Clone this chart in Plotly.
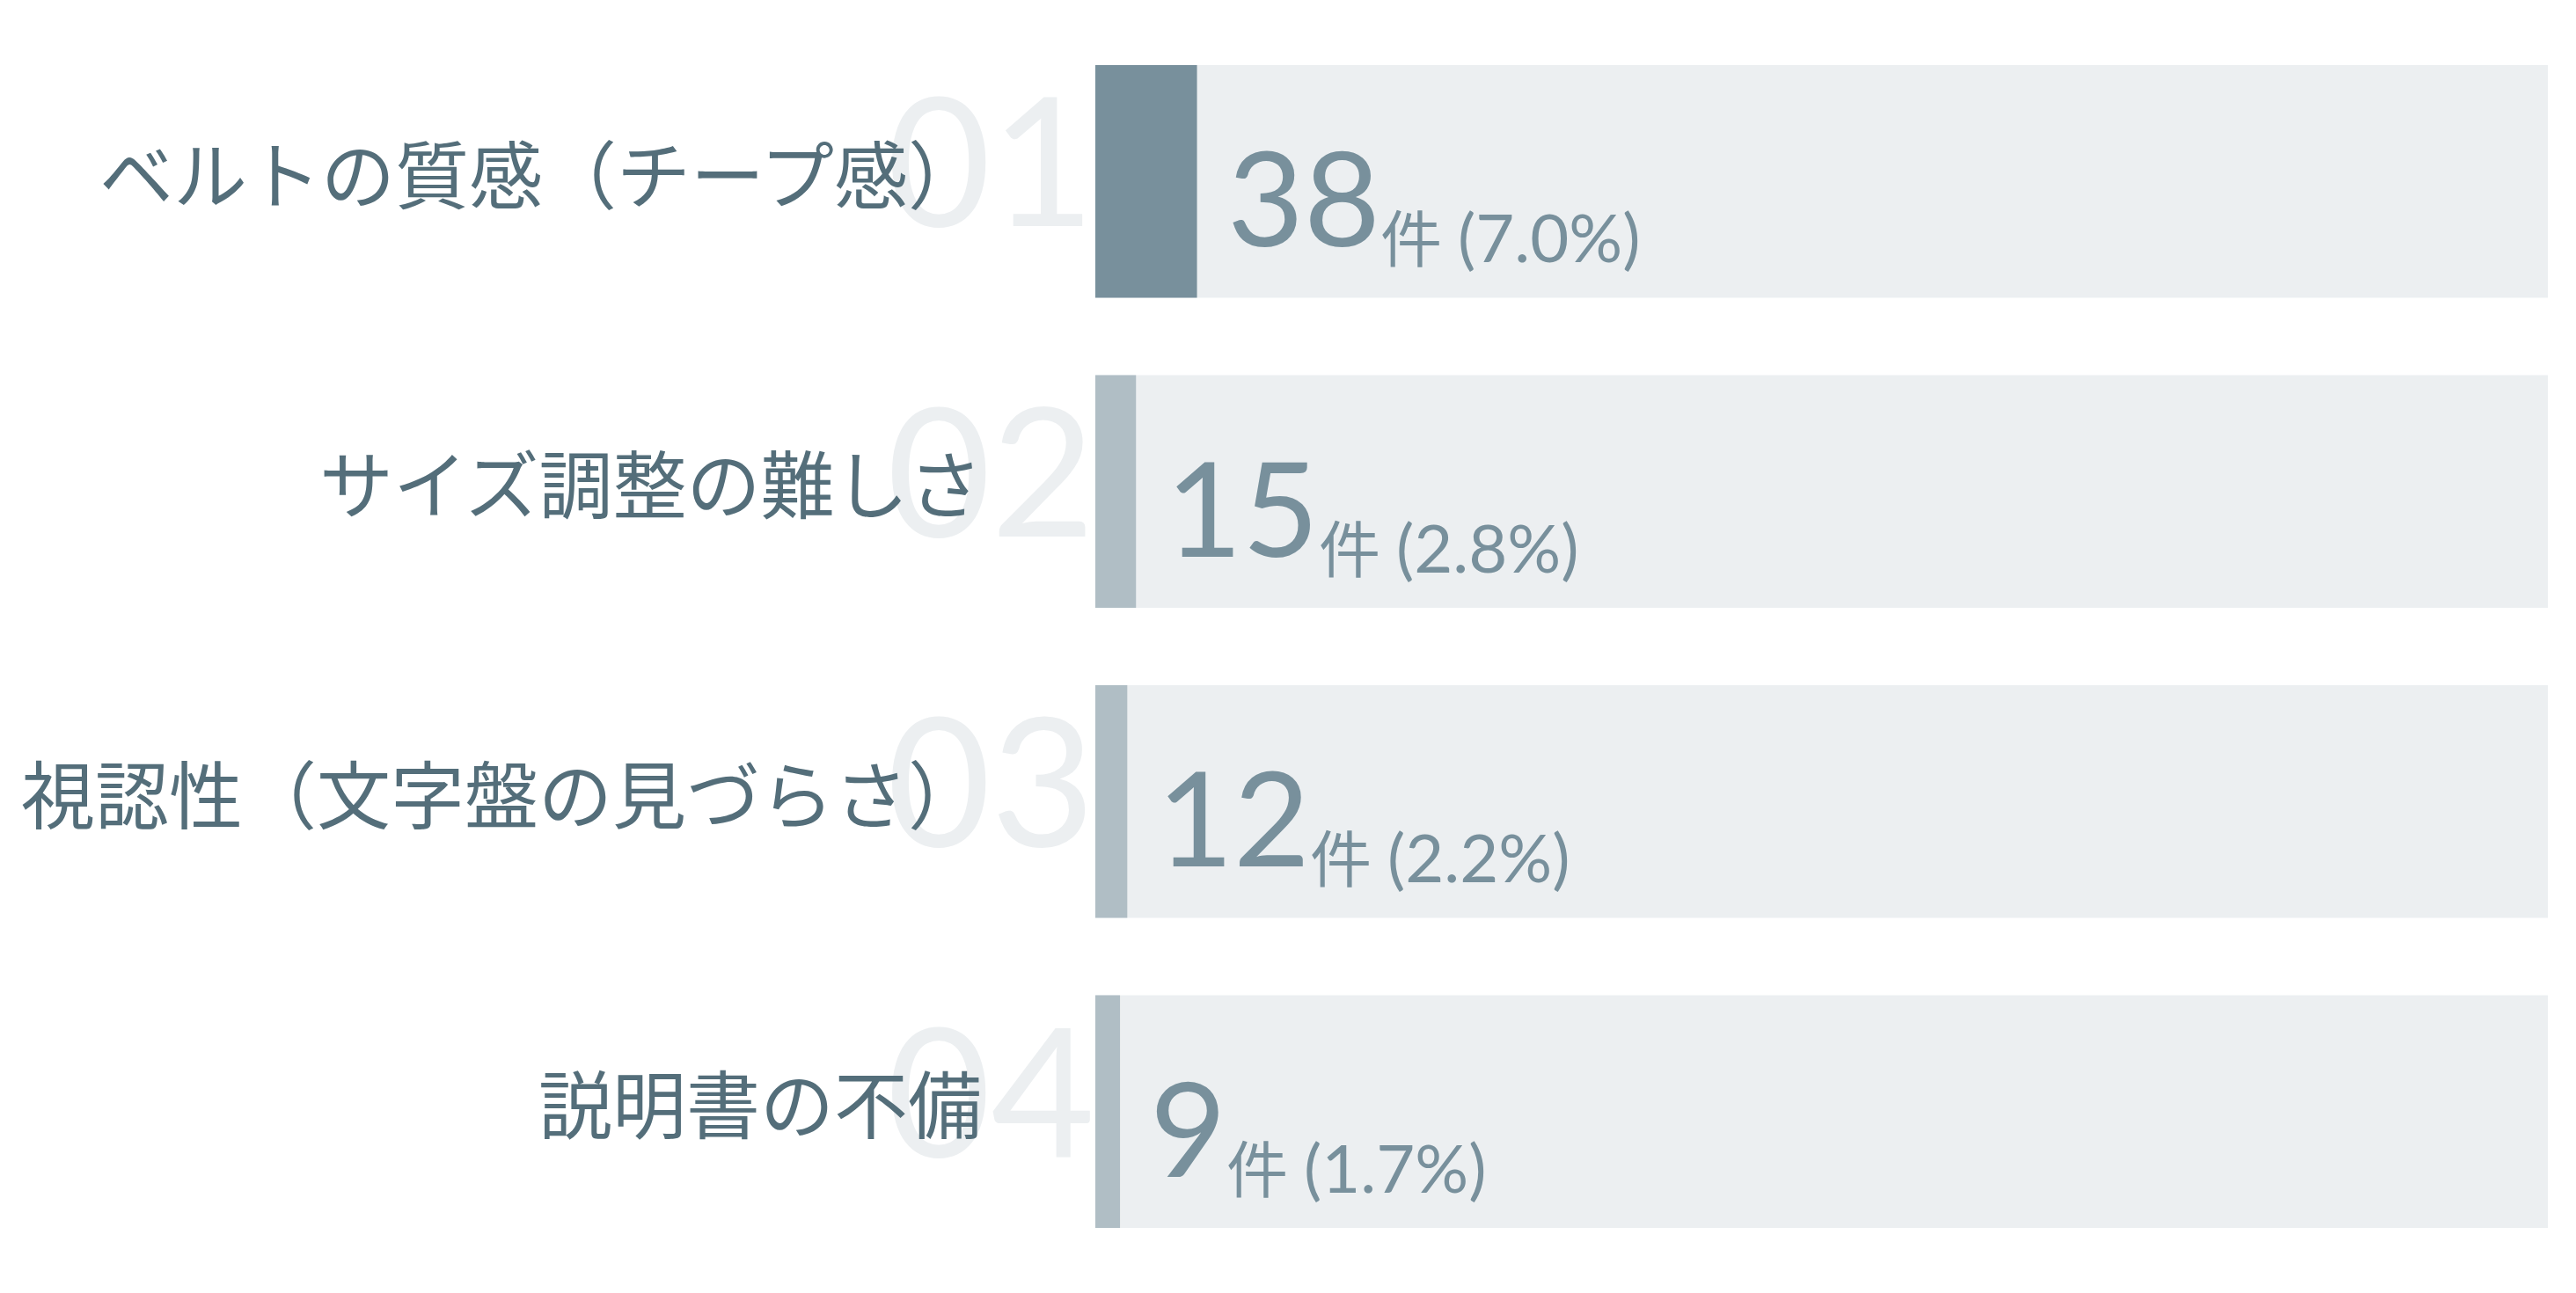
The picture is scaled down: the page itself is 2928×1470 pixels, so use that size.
import plotly.graph_objects as go

# 不満点の集計
labels = ["ベルトの質感（チープ感）", "サイズ調整の難しさ", "視認性（文字盤の見づらさ）", "説明書の不備"]
ranks = ["01", "02", "03", "04"]
counts = [38, 15, 12, 9]
percents = [7.0, 2.8, 2.2, 1.7]
full = [100, 100, 100, 100]

ypos = list(range(len(labels)))
fill_colors = ["#78909C"] + ["#B0BEC5"] * (len(labels) - 1)

fig = go.Figure()
# 背景バー
fig.add_trace(go.Bar(x=full, y=ypos, orientation="h", width=0.75,
                     marker=dict(color="#ECEFF1", line=dict(width=0)),
                     hoverinfo="skip"))
# 割合バー
fig.add_trace(go.Bar(x=percents, y=ypos, orientation="h", width=0.75,
                     marker=dict(color=fill_colors, line=dict(width=0)),
                     hoverinfo="skip"))

annotations = []
# 大きな番号 (薄い色, ラベルの後ろ)
for i, r in enumerate(ranks):
    annotations.append(dict(x=0, y=i, xref="x", yref="y", text=r, showarrow=False,
                            xanchor="right", yanchor="middle", xshift=2, yshift=28,
                            font=dict(family="Lato, Noto Sans", size=204, color="#ECEFF1")))
# 項目ラベル
for i, lab in enumerate(labels):
    annotations.append(dict(x=0, y=i, xref="x", yref="y", text=lab, showarrow=False,
                            xanchor="right", yanchor="middle", xshift=-127, yshift=12,
                            font=dict(family="Noto Sans CJK JP", size=84, color="#546E7A")))
# 件数と割合
for i, (c, p) in enumerate(zip(counts, percents)):
    txt = (f"{c}<span style='font-size:70px;baseline-shift:-18px'>件 "
           f"<span style='font-size:76px'>({p:.1f}%)</span></span>")
    annotations.append(dict(x=p, y=i, xref="x", yref="y", text=txt, showarrow=False,
                            xanchor="left", yanchor="bottom", xshift=32, yshift=-110,
                            font=dict(family="Lato, Noto Sans CJK JP", size=150, color="#78909C")))

# ページ余白 8px を考慮
fig.update_layout(
    width=2920, height=1462,
    margin=dict(l=1237, r=32, t=22, b=30),
    barmode="overlay",
    showlegend=False,
    plot_bgcolor="white", paper_bgcolor="white",
    xaxis=dict(range=[0, 100], visible=False, fixedrange=True),
    yaxis=dict(range=[3.5, -0.5], visible=False, fixedrange=True),
    annotations=annotations,
)

fig.write_html("out.html")
